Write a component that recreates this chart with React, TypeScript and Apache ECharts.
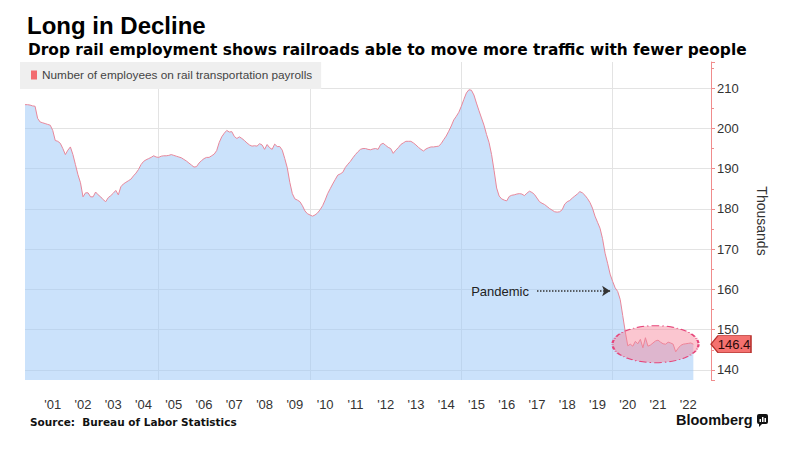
import React, { useEffect, useRef } from "react";
import * as echarts from "echarts";

// ---------------- data (thousands of employees, monthly) ----------------
const SERIES_NAME = "Number of employees on rail transportation payrolls";
const FIRST_MONTH = "2000-08";
const AXIS_END_MONTH = "2023-04";

const y2000 = [205.9, 205.9, 205.8, 205.6, 205.5];
const y2001 = [202.5, 201.6, 201.4, 201.2, 201.0, 200.8, 199.5, 197.0, 196.8, 196.3, 195.0, 193.5];
const y2002 = [194.6, 195.4, 193.5, 191.0, 188.5, 186.5, 183.0, 184.0, 184.0, 183.0, 183.0, 184.2];
const y2003 = [183.5, 183.0, 182.3, 181.8, 182.8, 183.3, 183.9, 184.6, 183.5, 185.5, 186.2, 186.6];
const y2004 = [187.0, 187.4, 188.2, 188.9, 189.8, 191.0, 191.8, 192.2, 192.5, 192.8, 193.2, 192.9];
const y2005 = [192.8, 193.1, 193.2, 193.2, 193.3, 193.5, 193.3, 193.1, 192.9, 192.7, 192.3, 191.9];
const y2006 = [191.4, 190.9, 190.4, 190.5, 191.4, 192.0, 192.5, 192.8, 192.8, 193.2, 193.6, 194.5];
const y2007 = [196.5, 197.9, 198.8, 199.5, 199.1, 199.2, 198.0, 197.5, 197.9, 197.5, 197.0, 196.4];
const y2008 = [195.9, 195.6, 195.7, 195.6, 196.2, 195.9, 194.8, 196.0, 195.2, 194.8, 196.1, 195.5];
const y2009 = [195.5, 194.6, 192.5, 190.2, 186.6, 183.8, 182.5, 182.2, 181.8, 180.8, 179.5, 178.8];
const y2010 = [178.5, 178.2, 178.5, 179.0, 179.8, 180.8, 182.2, 183.8, 185.0, 186.2, 187.3, 188.4];
const y2011 = [188.7, 189.1, 190.3, 191.1, 191.8, 192.7, 193.5, 194.2, 194.8, 195.0, 195.0, 194.8];
const y2012 = [194.7, 194.9, 195.0, 194.8, 196.0, 196.3, 195.8, 195.3, 195.0, 193.8, 194.6, 195.2];
const y2013 = [196.0, 196.4, 196.8, 196.8, 196.8, 196.4, 195.9, 195.3, 194.8, 194.4, 194.9, 195.2];
const y2014 = [195.4, 195.4, 195.5, 195.6, 196.2, 197.2, 198.1, 199.3, 200.6, 202.1, 203.0, 204.0];
const y2015 = [205.5, 207.2, 208.8, 209.6, 209.5, 208.3, 206.3, 204.4, 202.6, 200.8, 198.5, 196.5];
const y2016 = [193.5, 189.5, 185.2, 183.2, 182.5, 182.2, 182.0, 183.1, 183.4, 183.5, 183.7, 183.8];
const y2017 = [183.7, 183.3, 183.9, 184.4, 184.1, 183.6, 182.7, 181.8, 181.4, 181.1, 180.6, 180.1];
const y2018 = [179.7, 179.3, 179.2, 179.3, 179.8, 181.2, 181.8, 182.1, 182.7, 183.2, 183.7, 184.3];
const y2019 = [184.0, 183.4, 182.6, 181.6, 180.2, 178.2, 176.7, 175.2, 172.6, 169.0, 166.5, 163.8];
const y2020 = [162.0, 160.4, 159.5, 157.5, 153.5, 149.5, 146.0, 146.4, 145.9, 147.1, 146.5, 147.6];
const y2021 = [145.5, 148.0, 145.9, 146.2, 146.7, 147.2, 147.4, 146.9, 146.5, 146.4, 146.9, 146.7];
const y2022 = [146.4, 144.5, 145.4, 146.1, 146.4, 146.5, 146.6, 146.7, 146.4];

const employment: number[] = [
  ...y2000, ...y2001, ...y2002, ...y2003, ...y2004, ...y2005, ...y2006, ...y2007,
  ...y2008, ...y2009, ...y2010, ...y2011, ...y2012, ...y2013, ...y2014, ...y2015,
  ...y2016, ...y2017, ...y2018, ...y2019, ...y2020, ...y2021, ...y2022,
];
const LAST_VALUE = employment[employment.length - 1];

// vertical grid lines (year boundaries)
const GRID_MONTHS = ["2005-01", "2010-01", "2015-01", "2020-01"];

// annotations
const PANDEMIC_LABEL = "Pandemic";
const PANDEMIC_FROM = "2017-07";
const PANDEMIC_TO = "2019-12";
const PANDEMIC_LEVEL = 159.6;
const ELLIPSE_MONTH = "2021-06";
const ELLIPSE_LEVEL = 146.4;

// y-axis
const Y_MIN = 137.5;
const Y_MAX = 216.5;
const Y_STEP = 10;

function buildMonths(start: string, end: string): string[] {
  const out: string[] = [];
  let [y, m] = start.split("-").map(Number);
  const [ey, em] = end.split("-").map(Number);
  while (y < ey || (y === ey && m <= em)) {
    out.push(`${y}-${String(m).padStart(2, "0")}`);
    m++;
    if (m > 12) {
      m = 1;
      y++;
    }
  }
  return out;
}
const months = buildMonths(FIRST_MONTH, AXIS_END_MONTH);

const SANS = "'Liberation Sans', Arial, sans-serif";
const VERD = "'DejaVu Sans', Verdana, sans-serif";
const AXIS_RED = "#f08c8c";
const GRID_GRAY = "#e3e3e3";

const TAG_PATH = "path://M0,8 L7,0 L40,0 L40,16 L7,16 Z";

function buildOption(): any {
  const splitColors = [
    "rgba(0,0,0,0)",
    GRID_GRAY, GRID_GRAY, GRID_GRAY, GRID_GRAY, GRID_GRAY, GRID_GRAY, GRID_GRAY, GRID_GRAY,
    "rgba(0,0,0,0)",
  ];
  return {
    animation: false,
    backgroundColor: "#ffffff",
    title: [
      {
        text: "Long in Decline",
        left: 27,
        top: 13,
        padding: 0,
        textStyle: { fontFamily: SANS, fontWeight: "bold", fontSize: 24, color: "#000" },
      },
      {
        text: "Drop rail employment shows railroads able to move more traffic with fewer people",
        left: 28,
        top: 42,
        padding: 0,
        textStyle: { fontFamily: VERD, fontWeight: "bold", fontSize: 15.4, color: "#000" },
      },
    ],
    legend: {
      left: 20,
      top: 62,
      padding: [7, 9, 8, 11],
      backgroundColor: "#efefef",
      icon: "rect",
      itemWidth: 6,
      itemHeight: 9,
      selectedMode: false,
      textStyle: { fontFamily: SANS, fontSize: 11.8, color: "#444" },
      data: [{ name: SERIES_NAME, itemStyle: { color: "#f26b6f" } }],
    },
    grid: { left: 25, right: 88, top: 62, bottom: 74, outerBoundsMode: "none" },
    xAxis: {
      type: "category",
      data: months,
      boundaryGap: false,
      axisLine: { show: false },
      axisTick: { show: false },
      axisLabel: {
        interval: (_i: number, v: string) => v.endsWith("-07"),
        formatter: (v: string) => "'" + v.slice(2, 4),
        color: "#333",
        fontSize: 13,
        fontFamily: SANS,
        margin: 18,
      },
      splitLine: {
        show: true,
        interval: (_i: number, v: string) => GRID_MONTHS.includes(v),
        lineStyle: { color: GRID_GRAY, width: 1 },
      },
    },
    yAxis: {
      type: "value",
      position: "right",
      min: Y_MIN,
      max: Y_MAX,
      minInterval: Y_STEP,
      maxInterval: Y_STEP,
      name: "Thousands",
      nameLocation: "middle",
      nameRotate: -90,
      nameGap: 44,
      nameTextStyle: { fontFamily: SANS, fontSize: 14, color: "#333" },
      axisLine: { show: true, lineStyle: { color: AXIS_RED, width: 1 } },
      axisTick: { show: true, length: 4, lineStyle: { color: AXIS_RED } },
      minorTick: { show: true, splitNumber: 2, length: 3, lineStyle: { color: AXIS_RED } },
      axisLabel: {
        showMinLabel: false,
        showMaxLabel: false,
        color: "#333",
        fontSize: 13,
        fontFamily: SANS,
        margin: 6,
      },
      splitLine: { show: true, lineStyle: { color: splitColors, width: 1 } },
    },
    series: [
      {
        type: "line",
        name: SERIES_NAME,
        data: employment,
        showSymbol: false,
        symbol: "none",
        lineStyle: { color: "#e8879a", width: 1 },
        itemStyle: { color: "#e8879a" },
        areaStyle: { color: "rgb(160,203,248)", opacity: 0.55, origin: "start" },
        markPoint: {
          silent: true,
          data: [
            {
              name: "pandemic-range",
              coord: [ELLIPSE_MONTH, ELLIPSE_LEVEL],
              symbol: "circle",
              symbolSize: [86, 37],
              itemStyle: {
                color: "rgba(246,128,150,0.45)",
                borderColor: "#e6457a",
                borderWidth: 1.5,
                borderType: [5, 2, 1, 2],
              },
              label: { show: false },
            },
            {
              name: "last",
              coord: [AXIS_END_MONTH, LAST_VALUE],
              value: LAST_VALUE,
              symbol: TAG_PATH,
              symbolSize: [40, 17],
              symbolOffset: [20, 0],
              symbolKeepAspect: false,
              itemStyle: { color: "#f4716f", borderColor: "#b8302c", borderWidth: 1 },
              label: {
                show: true,
                position: "inside",
                formatter: "{c}",
                color: "#2a0a0a",
                fontSize: 13,
                fontFamily: SANS,
                offset: [3, 0],
              },
            },
          ],
        },
        markLine: {
          silent: true,
          symbol: ["none", "arrow"],
          symbolSize: 8,
          lineStyle: { color: "#333", type: "dotted", width: 1.5 },
          label: {
            show: true,
            position: "start",
            formatter: PANDEMIC_LABEL,
            color: "#222",
            fontSize: 13,
            fontFamily: SANS,
            distance: 8,
          },
          data: [[{ coord: [PANDEMIC_FROM, PANDEMIC_LEVEL] }, { coord: [PANDEMIC_TO, PANDEMIC_LEVEL] }]],
        },
      },
    ],
    graphic: [
      {
        type: "text",
        left: 30,
        top: 416,
        style: {
          text: "Source:  Bureau of Labor Statistics",
          font: "bold 10.5px 'DejaVu Sans', Verdana, sans-serif",
          fill: "#111",
        },
      },
      {
        type: "text",
        left: 676,
        top: 412,
        style: {
          text: "Bloomberg",
          font: "bold 14.5px 'Liberation Sans', Arial, sans-serif",
          fill: "#111",
        },
      },
      {
        type: "group",
        left: 757,
        top: 414,
        children: [
          { type: "rect", shape: { x: 0, y: 0, width: 11, height: 10, r: 2 }, style: { fill: "#111" } },
          { type: "polygon", shape: { points: [[2, 9], [6, 9], [2, 13]] }, style: { fill: "#111" } },
          { type: "rect", shape: { x: 2.5, y: 5, width: 1.5, height: 3 }, style: { fill: "#fff" } },
          { type: "rect", shape: { x: 5, y: 3, width: 1.5, height: 5 }, style: { fill: "#fff" } },
          { type: "rect", shape: { x: 7.5, y: 4, width: 1.5, height: 4 }, style: { fill: "#fff" } },
        ],
      },
    ],
  };
}

export default function App() {
  const ref = useRef<HTMLDivElement>(null);
  useEffect(() => {
    if (!ref.current) return;
    const chart = echarts.init(ref.current, null, { renderer: "svg" });
    chart.setOption(buildOption());
    return () => chart.dispose();
  }, []);
  return (
    <div
      ref={ref}
      style={{ position: "absolute", left: 0, top: 0, width: 799, height: 454, background: "#fff" }}
    />
  );
}
